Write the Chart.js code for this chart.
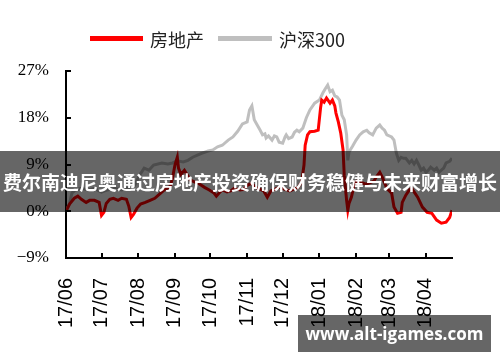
<!DOCTYPE html>
<html>
<head>
<meta charset="utf-8">
<script src="https://cdn.jsdelivr.net/npm/chart.js@4"></script>
<style>
  body { margin: 0; background: #fff; }
  #wrap { position: relative; width: 500px; height: 362px; overflow: hidden; }
  #chart { position: absolute; left: 0; top: 0; }
  .key-line { position: absolute; height: 5px; }
  .key-text { position: absolute; top: 26px; font: 18px "Noto Sans CJK SC", sans-serif; color: #222; line-height: 26px; }
  #banner { position: absolute; left: 0; top: 151px; width: 500px; height: 61px; background: rgba(0,0,0,0.6);
            color: #fff; font: bold 19px "Noto Sans CJK SC", sans-serif; line-height: 61px; text-align: center; white-space: nowrap; }
  #mark { position: absolute; left: 298px; top: 315px; width: 193px; height: 37px; background: rgba(0,0,0,0.6);
          color: #fff; font: bold 17px "Open Sans", sans-serif; line-height: 37px; text-align: center; }
</style>
</head>
<body>
<div id="wrap">
  <canvas id="chart" width="500" height="362"></canvas>
  <div class="key-line" style="left:90px;top:36px;width:53px;background:#FF0000"></div>
  <div class="key-text" style="left:150px">房地产</div>
  <div class="key-line" style="left:218px;top:36px;width:54px;background:#BFBFBF"></div>
  <div class="key-text" style="left:279px">沪深300</div>
  <div id="banner">费尔南迪尼奥通过房地产投资确保财务稳健与未来财富增长</div>
  <div id="mark">www.alt-igames.com</div>
</div>
<script>
// month ticks (days since 2017-06-01)
const monthLabels = ['17/06', '17/07', '17/08', '17/09', '17/10', '17/11', '17/12', '18/01', '18/02', '18/03', '18/04'];
const monthDays = [0, 30, 61, 92, 122, 153, 183, 214, 245, 273, 304];

// 房地产 (cumulative return, %)
const estateDays = [0, 3, 7, 10, 13, 17, 20, 24, 28, 30, 32, 34, 37, 40, 44, 47, 51, 53, 55, 57, 60, 63, 67, 71, 75, 79, 83, 88,
  90, 92, 94, 95, 97, 100, 105, 109, 113, 117, 121, 125, 127, 130, 132, 136, 139, 142, 147, 150, 153, 157, 160, 164, 167, 170,
  173, 176, 180, 185, 189, 192, 196, 199, 201, 202, 204, 206, 210, 213, 215, 216, 218, 220, 223, 225, 227, 228, 230, 232, 234,
  235, 237, 238, 239, 241, 244, 246, 249, 253, 256, 260, 262, 265, 267, 271, 275, 277, 280, 283, 284, 287, 290, 292, 297, 301,
  305, 309, 313, 317, 321, 324, 326];
const estateVals = [0, 1.4, 2.5, 2.9, 2.3, 1.7, 2.1, 2.1, 1.7, -0.8, -0.2, 1.5, 2.3, 2.5, 2.1, 2.5, 2.3, 1.0, -1.2, -0.6, 0.6, 1.4, 1.7, 2.1, 2.5, 3.3, 4.1, 4.8,
  6.4, 8.9, 10.4, 8.3, 7.1, 7.9, 6.0, 5.6, 5.2, 4.6, 4.1, 3.5, 2.9, 3.7, 4.1, 3.7, 3.9, 4.4, 4.1, 4.2, 5.0, 5.4, 4.6, 4.2, 3.9, 2.7,
  3.9, 4.2, 4.6, 4.2, 3.9, 4.2, 4.6, 5.6, 8.9, 12.7, 14.7, 15.3, 15.4, 15.6, 19.9, 21.4, 21.0, 21.8, 20.8, 21.4, 20.3, 18.9, 17.2, 15.1, 11.8,
  6.9, 2.1, 0.2, 1.5, 2.7, 5.6, 5.8, 5.6, 5.2, 5.4, 5.8, 6.6, 7.5, 6.6, 4.4, 3.5, 0.8, -0.4, -0.2, 1.7, 3.1, 4.1, 4.4, 2.7, 0.8,
  -0.2, -0.4, -1.7, -2.3, -2.1, -1.2, 0.2];

// 沪深300 (cumulative return, %)
const hsDays = [0, 3, 5, 8, 13, 19, 24, 30, 35, 41, 47, 52, 58, 62, 66, 70, 74, 81, 86, 90, 94, 99, 103, 107, 111, 115, 120, 124,
  128, 132, 137, 141, 145, 149, 153, 155, 157, 159, 161, 164, 166, 168, 169, 171, 174, 176, 178, 180, 183, 185, 186, 188, 191,
  193, 195, 197, 200, 203, 206, 210, 214, 217, 219, 221, 223, 225, 227, 229, 231, 233, 235, 237, 238, 239, 242, 245, 248, 251,
  254, 256, 259, 262, 265, 267, 269, 271, 275, 277, 279, 281, 283, 285, 287, 290, 292, 294, 296, 298, 300, 302, 304, 306, 308,
  311, 313, 315, 317, 319, 321, 324, 326];
const hsVals = [0, 1.5, 3.5, 4.1, 4.4, 4.1, 4.4, 3.7, 4.1, 4.4, 4.1, 4.4, 5.0, 6.9, 8.3, 7.9, 8.9, 9.3, 9.1, 9.3, 9.7, 9.5, 9.8, 10.4, 10.8, 11.2, 11.6, 11.8,
  12.4, 12.7, 13.7, 14.3, 15.4, 16.8, 17.2, 19.5, 20.3, 17.6, 16.8, 15.6, 14.7, 14.9, 14.1, 14.5, 13.7, 14.5, 14.3, 13.3, 13.1, 14.3, 14.7, 14.0, 14.3,
  15.2, 15.6, 15.3, 16.0, 18.0, 19.5, 20.8, 21.4, 22.8, 23.6, 24.3, 23.0, 23.3, 22.2, 22.0, 21.4, 18.5, 17.6, 14.7, 9.8, 11.4, 12.5, 13.7, 14.7, 15.3,
  15.6, 15.1, 14.7, 16.0, 16.6, 16.0, 15.6, 14.7, 14.3, 13.7, 11.2, 9.8, 10.4, 10.2, 10.2, 9.3, 9.8, 9.1, 9.8, 8.9, 7.9, 8.3, 7.5, 7.9, 8.5,
  7.9, 8.3, 7.5, 7.9, 8.3, 9.3, 9.6, 10.2];

const toPoints = (xs, ys) => xs.map((x, i) => ({ x: x, y: ys[i] }));

// small inward tick marks, like the original
const innerTicks = {
    id: 'innerTicks',
    afterDatasetsDraw(chart) {
        const ctx = chart.ctx;
        const xs = chart.scales.x, ys = chart.scales.y;
        const area = chart.chartArea;
        ctx.save();
        ctx.strokeStyle = '#000';
        ctx.lineWidth = 2;
        ctx.beginPath();
        ys.ticks.forEach(t => {
            const py = Math.round(ys.getPixelForValue(t.value));
            ctx.moveTo(area.left, py);
            ctx.lineTo(area.left + 5, py);
        });
        xs.ticks.forEach(t => {
            const px = Math.round(xs.getPixelForValue(t.value));
            ctx.moveTo(px, area.bottom);
            ctx.lineTo(px, area.bottom - 5);
        });
        ctx.stroke();
        ctx.restore();
    }
};

new Chart(document.getElementById('chart').getContext('2d'), {
    type: 'line',
    data: {
        datasets: [{
            label: '房地产',
            data: toPoints(estateDays, estateVals),
            borderColor: '#FF0000',
            borderWidth: 3,
            pointRadius: 0,
            tension: 0
        }, {
            label: '沪深300',
            data: toPoints(hsDays, hsVals),
            borderColor: '#BFBFBF',
            borderWidth: 3,
            pointRadius: 0,
            tension: 0
        }]
    },
    options: {
        responsive: false,
        animation: false,
        layout: { padding: { top: 71, right: 48, left: 0, bottom: 0 } },
        plugins: { legend: { display: false }, tooltip: { enabled: false } },
        scales: {
            x: {
                type: 'linear',
                min: 0,
                max: 326,
                afterBuildTicks: s => { s.ticks = monthDays.map(v => ({ value: v })); },
                afterFit: s => { s.height = 104; },
                ticks: {
                    callback: (v, i) => monthLabels[i],
                    autoSkip: false,
                    minRotation: 90,
                    maxRotation: 90,
                    padding: 20,
                    color: '#000',
                    font: { family: 'Liberation Sans', size: 20 }
                },
                grid: { display: true, drawOnChartArea: false, drawTicks: false },
                border: { display: true, color: '#000', width: 2 }
            },
            y: {
                min: -9,
                max: 27,
                afterFit: s => { s.width = 66; },
                ticks: {
                    stepSize: 9,
                    callback: v => (v < 0 ? '−' : '') + Math.abs(v) + '%',
                    padding: 17,
                    color: '#000',
                    font: { family: 'Liberation Serif', size: 17 }
                },
                grid: { display: true, drawOnChartArea: false, drawTicks: false },
                border: { display: true, color: '#000', width: 2 }
            }
        }
    },
    plugins: [innerTicks]
});
</script>
</body>
</html>
